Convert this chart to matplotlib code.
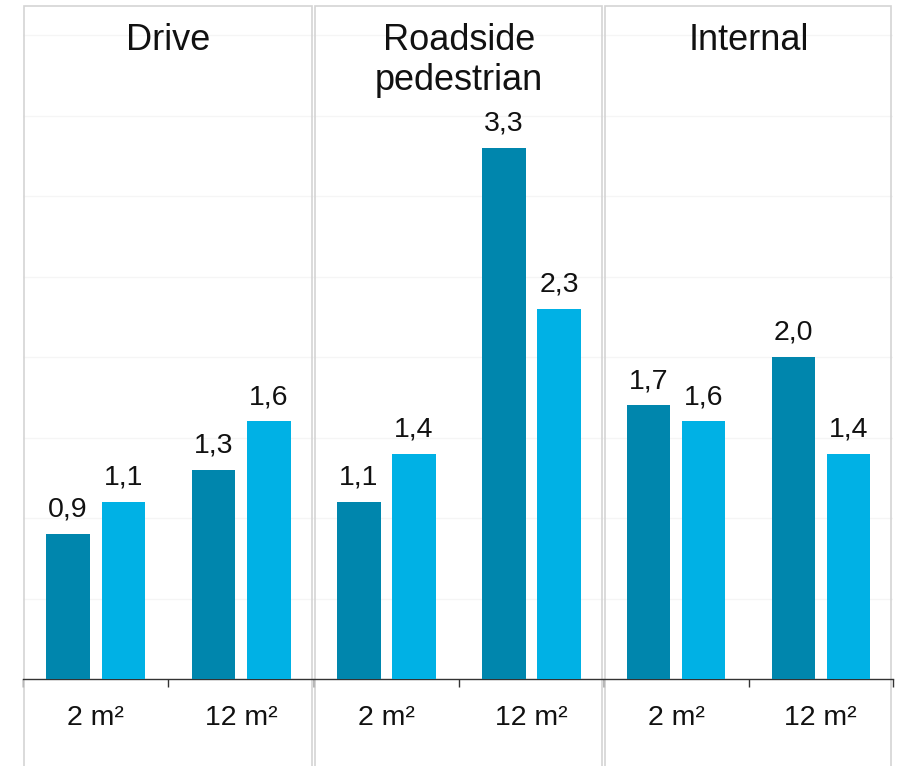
import matplotlib
matplotlib.use("Agg")
import matplotlib.pyplot as plt
from matplotlib.patches import Rectangle
import numpy as np

plt.rcParams['font.family'] = ['Liberation Sans', 'DejaVu Sans']

# Data
panels = ["Drive", "Roadside\npedestrian", "Internal"]
sizes = ["2 m²", "12 m²"]
series_a = [[0.9, 1.3], [1.1, 3.3], [1.7, 2.0]]   # dark bars
series_b = [[1.1, 1.6], [1.4, 2.3], [1.6, 1.4]]   # light bars

dark = "#0086AD"
light = "#00B1E5"
box_grey = "#D4D4D4"
grid_grey = "#F5F5F5"

W, H = 903, 766
fig = plt.figure(figsize=(W / 100, H / 100), dpi=100)

panel_px = [(23, 314), (314, 604), (604, 893)]
top_px, bottom_px, zero_px = 4, 766, 679
unit_px = 161.0
ylim = (-(bottom_px - zero_px) / unit_px, (zero_px - top_px) / unit_px)

x = np.arange(len(sizes)) + 0.5
off = 0.19
bw = 0.30

for i, (name, (l, r)) in enumerate(zip(panels, panel_px)):
    ax = fig.add_axes([l / W, 1 - bottom_px / H, (r - l) / W, (bottom_px - top_px) / H])
    ax.set_xlim(0, 2)
    ax.set_ylim(*ylim)

    # faint horizontal grid
    ax.set_yticks(np.arange(0.5, 4.01, 0.5))
    ax.yaxis.grid(True, color=grid_grey, linewidth=1)
    ax.tick_params(axis='y', length=0, labelleft=False)
    ax.set_axisbelow(True)

    b1 = ax.bar(x - off, series_a[i], width=bw, color=dark, zorder=3)
    b2 = ax.bar(x + off, series_b[i], width=bw, color=light, zorder=3)
    for bars, vals in ((b1, series_a[i]), (b2, series_b[i])):
        for rect, v in zip(bars, vals):
            ax.annotate(f"{v:.1f}".replace(".", ","),
                        (rect.get_x() + rect.get_width() / 2, v),
                        xytext=(0, 8), textcoords="offset points",
                        ha="center", va="bottom", fontsize=20.5, color="#111111")

    # category ticks: labels at centres, marks at boundaries
    ax.set_xticks(x)
    ax.set_xticklabels(sizes)
    ax.set_xticks([0, 1, 2], minor=True)
    ax.tick_params(axis='x', which='major', length=0, pad=19,
                   labelsize=20.5, labelcolor="#111111")
    ax.tick_params(axis='x', which='minor', length=6, width=1,
                   color="#333333", direction='out')

    for s in ("top", "left", "right"):
        ax.spines[s].set_visible(False)
    ax.spines["bottom"].set_position(("data", 0))
    ax.spines["bottom"].set_color("#333333")
    ax.spines["bottom"].set_linewidth(1)

    # panel frame
    ax.add_patch(Rectangle((0.004, -0.01), 0.99, 1.008, transform=ax.transAxes,
                           fill=False, edgecolor=box_grey, linewidth=1.2,
                           clip_on=False, zorder=1))

    ax.text(0.5, (bottom_px - 23) / (bottom_px - top_px), name,
            transform=ax.transAxes, ha="center", va="top",
            fontsize=26, linespacing=1.18, color="#111111")

fig.savefig("out.png", dpi=100)
